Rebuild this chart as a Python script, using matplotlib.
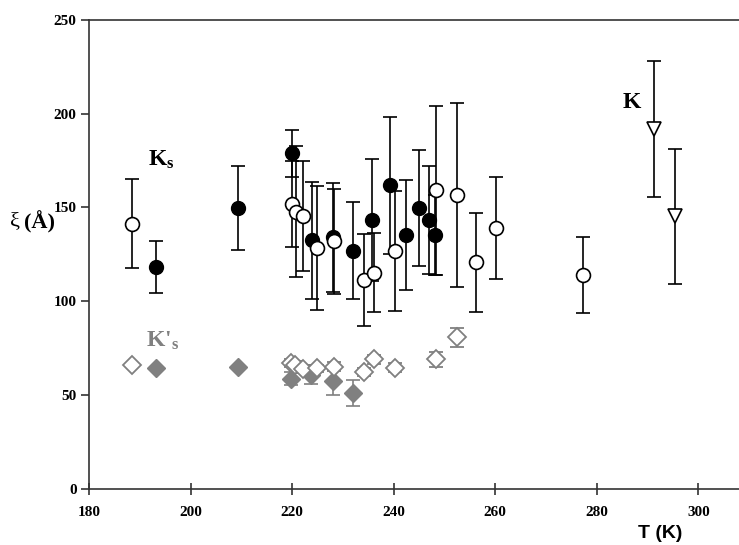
import matplotlib
matplotlib.use("Agg")
import matplotlib.pyplot as plt

plt.rcParams['font.family'] = ['Liberation Serif', 'DejaVu Serif']
plt.rcParams['mathtext.fontset'] = 'custom'
plt.rcParams['mathtext.rm'] = 'Liberation Serif'
plt.rcParams['mathtext.bf'] = 'Liberation Serif:bold'

# Ks, open circles
open_T = [188.4, 219.9, 220.7, 222.1, 224.9, 228.3, 234.1, 236.1, 240.3, 248.4, 252.4, 256.2, 260.2, 277.2]
open_xi = [141.3, 151.9, 147.8, 145.4, 128.6, 132.0, 111.4, 115.3, 126.9, 159.2, 156.7, 120.8, 139.1, 113.9]
open_err = [23.7, 23.0, 35.0, 29.5, 33.0, 28.0, 24.7, 21.0, 32.0, 45.0, 49.0, 26.3, 27.1, 20.1]

# Ks, filled circles
fill_T = [193.1, 209.4, 219.9, 224.0, 228.1, 232.0, 235.8, 239.3, 242.4, 245.0, 246.9, 248.2]
fill_xi = [118.2, 149.6, 178.9, 132.4, 134.2, 127.0, 143.2, 161.7, 135.4, 149.6, 143.2, 135.4]
fill_err = [13.9, 22.2, 12.5, 31.0, 29.0, 25.7, 32.6, 36.4, 29.3, 31.0, 28.6, 21.4]

# K, open triangles
tri_T = [291.2, 295.4]
tri_xi = [191.7, 145.2]
tri_err = [36.1, 36.0]

# K's, open diamonds
odia_T = [188.4, 219.7, 220.6, 222.1, 224.8, 228.3, 234.1, 236.1, 240.3, 248.4, 252.4]
odia_xi = [66.1, 67.0, 66.1, 63.8, 64.3, 65.2, 62.2, 69.1, 64.7, 69.1, 80.9]
odia_err = [0, 2, 2, 2, 2, 2.5, 2, 2.5, 2.5, 3.9, 5]

# K's, filled diamonds
fdia_T = [193.1, 209.4, 219.8, 223.8, 228.0, 232.0]
fdia_xi = [64.7, 65.2, 58.8, 60.8, 57.6, 51.3]
fdia_err = [0, 0, 3.5, 5, 7.5, 7]

grey = '#808080'

fig = plt.figure(figsize=(7.39, 5.45), dpi=100)
ax = fig.add_axes([89/739, 1 - 489/545, 1 - 89/739, (489 - 19.7)/545])

ax.errorbar(fdia_T, fdia_xi, yerr=fdia_err, fmt='D', ms=9, mfc=grey, mec=grey,
            ecolor=grey, elinewidth=1.2, capsize=5, capthick=1.2, zorder=3)
ax.errorbar(odia_T, odia_xi, yerr=odia_err, fmt='D', ms=9, mfc='white', mec=grey, mew=1.3,
            ecolor=grey, elinewidth=1.2, capsize=5, capthick=1.2, zorder=3)
ax.errorbar(fill_T, fill_xi, yerr=fill_err, fmt='o', ms=10, mfc='black', mec='black',
            ecolor='black', elinewidth=1.2, capsize=5, capthick=1.2, zorder=4)
ax.errorbar(open_T, open_xi, yerr=open_err, fmt='o', ms=10, mfc='white', mec='black', mew=1.2,
            ecolor='black', elinewidth=1.2, capsize=5, capthick=1.2, zorder=5)
ax.errorbar(tri_T, tri_xi, yerr=tri_err, fmt='v', ms=10, mfc='white', mec='black', mew=1.2,
            ecolor='black', elinewidth=1.2, capsize=5, capthick=1.2, zorder=5)

ax.set_xlim(180, 308)
ax.set_ylim(0, 250)
ax.set_xticks(range(180, 301, 20))
ax.set_yticks(range(0, 251, 50))

for s in ['left', 'bottom', 'top']:
    ax.spines[s].set_color('#333333')
    ax.spines[s].set_linewidth(1.2)
ax.spines['right'].set_visible(False)
ax.tick_params(axis='y', direction='out', length=6, width=1.2, color='#333333', labelsize=11, pad=3)
ax.tick_params(axis='x', direction='inout', length=8, width=1.2, color='#333333', labelsize=11, pad=8)
for lab in ax.get_xticklabels() + ax.get_yticklabels():
    lab.set_fontweight('bold')

ax.text(194.2, 175.4, r'$\mathbf{K_s}$', fontsize=17, ha='center', va='center')
ax.text(191.2, 78.9, r"K'$\mathbf{_s}$", fontsize=17, fontweight='bold', color=grey,
        ha='left', va='center')
ax.text(286.9, 205.8, 'K', fontsize=17, fontweight='bold', ha='center', va='center')

fig.text(10/739, 1 - 222/545, 'ξ', fontsize=16, ha='left', va='center')
fig.text(24/739, 1 - 222/545, '(Å)', fontsize=16, fontweight='bold', ha='left', va='center')
fig.text(660/739, 1 - 533/545, 'T (K)', fontsize=14, fontweight='bold', family='Liberation Sans',
         ha='center', va='center')

fig.savefig('out.png', dpi=100)
